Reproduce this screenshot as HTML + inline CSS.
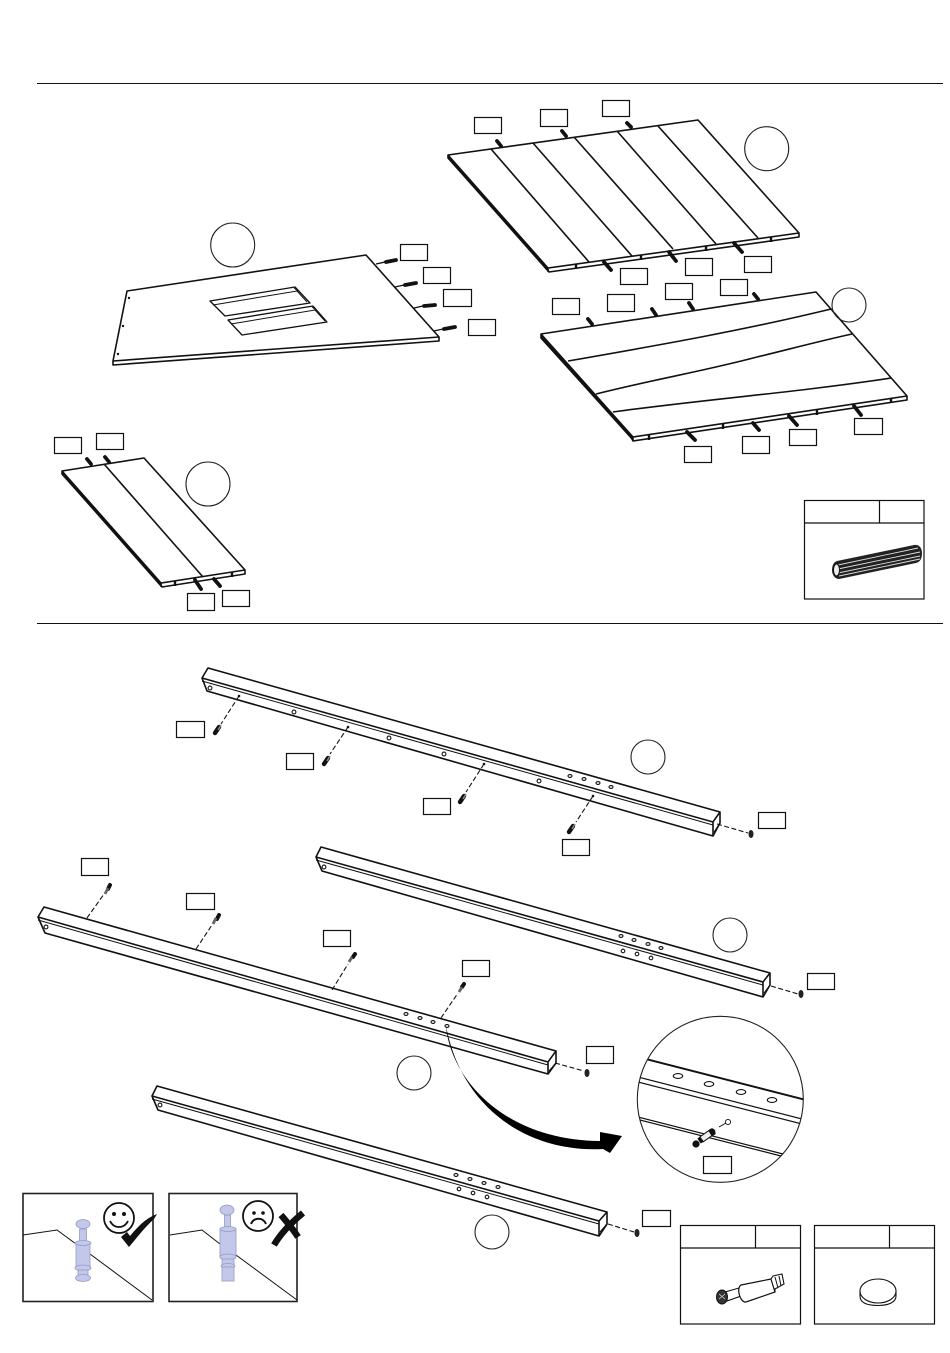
<!DOCTYPE html>
<html><head><meta charset="utf-8"><style>
html,body{margin:0;padding:0;background:#fff}
svg{display:block}
.l{fill:#fff;stroke:#111;stroke-width:1.2}
.c{fill:none;stroke:#222;stroke-width:1.1}
.e{fill:#fff;stroke:#111;stroke-width:1.6;stroke-linejoin:round}
.p{fill:none;stroke:#111;stroke-width:1.6}
.g{fill:none;stroke:#111;stroke-width:1}
.d{fill:none;stroke:#111;stroke-width:1.1;stroke-dasharray:5 2.5}
.dw{fill:none;stroke:#111;stroke-width:3.8;stroke-linecap:round}
.h{fill:#fff;stroke:#111;stroke-width:1.1}
.k{fill:#111}
.cam{fill:#c3c8ea;stroke:#9499c4;stroke-width:.8}
</style></head><body>
<svg width="950" height="1353" viewBox="0 0 950 1353" xmlns="http://www.w3.org/2000/svg">
<defs>
<clipPath id="zc"><circle cx="720.3" cy="1099.3" r="83"/></clipPath>
</defs>
<path d="M37 83.5H943M37 623.5H943" stroke="#111" stroke-width="1" fill="none"/>

<!-- Panel A -->
<path class="e" d="M448 155L698 120L799 233L799 237L549 272L547 268L448 158Z"/>
<path class="p" d="M448 155L548 268L799 233M548 268V272"/>
<path d="M448 156L548 268L547 271L448 159Z" fill="#111"/>
<path class="p" d="M491 149L589 262M533 143L632 256M574 137L673 249M617 131L716 244M658 126L758 238"/>
<path class="dw" d="M497 141L501 146M562 131L566 136M627 123L631 127"/>
<path class="dw" d="M604 262L611 270M669 252L676 261M734 243L742 252"/>
<path d="M576 264V269M641 255V260M706 246V251M771 237V242" stroke="#111" stroke-width="2.4"/>
<circle class="c" cx="766.7" cy="148.7" r="22"/>

<!-- Panel B -->
<path class="e" d="M541 334L816 292L907 396L907 400L633 441L631 437L541 338Z"/>
<path class="p" d="M541 334L633 437L907 396M633 437V441"/>
<path d="M541 335L633 437L632 440L541 339Z" fill="#111"/>
<path class="p" d="M568 361C660 345 745 330 831 309M596 394C660 378 700 372 757 357C790 349 820 341 852 334M613 412C700 400 800 392 891 378"/>
<path class="dw" d="M588 319L592 324M652 309L656 315M689 303L693 309M754 294L758 299"/>
<path class="dw" d="M687 432L695 440M753 423L759 430M789 416L797 425M854 406L861 415"/>
<path d="M649 435V440M723 424V429M817 410V415M891 398V403" stroke="#111" stroke-width="2.4"/>
<circle class="c" cx="849" cy="305" r="17" fill="#fff"/>

<!-- Panel C -->
<path class="e" d="M127 291L366 255L439 337L439 341L113 365L113 361Z"/>
<path class="p" d="M113 361L439 337"/>
<path class="e" style="stroke-width:1.3" d="M210 301L295 287L310 303L225 316Z"/>
<path class="g" d="M213 305L297 291L307 302M294 288L298 291"/>
<path class="e" style="stroke-width:1.3" d="M228 320L313 306L327 322L242 335Z"/>
<path class="g" d="M231 324L315 310L325 321M312 307L316 310"/>
<circle class="k" cx="129" cy="298" r="1.2"/><circle class="k" cx="123" cy="326" r="1.2"/><circle class="k" cx="118" cy="354" r="1.2"/>
<path d="M376 264L385 262M395 287L404 285M414 308L423 306M434 331L443 329" stroke="#111" stroke-width="1.4"/>
<path class="dw" d="M386 262L396 260M405 285L416 283M424 306L435 305M444 329L455 327"/>
<circle class="c" cx="232.7" cy="245" r="22"/>

<!-- Panel D -->
<path class="e" d="M62 471L144 458L245 570L245 574L162 587L160 583L62 474Z"/>
<path class="p" d="M62 471L161 583L245 570M161 583V587"/>
<path d="M62 472L161 583L160 586L62 475Z" fill="#111"/>
<path class="p" d="M104 464L203 577"/>
<path class="dw" d="M87 459L91 464M105 457L109 462"/>
<path class="dw" d="M195 580L201 589M214 579L220 586"/>
<path d="M175 581V586M232 572V577" stroke="#111" stroke-width="2.4"/>
<circle class="c" cx="208" cy="484" r="22"/>

<!-- Dowel box -->
<rect class="l" x="804.5" y="500.5" width="119.5" height="98.5"/>
<path d="M804.5 523H924M879.5 500.5V523" stroke="#111" stroke-width="1.2"/>
<path d="M837 561L914 545C919 544 922 548 922 553C922 559 920 562 916 563L839 579C835 579 832 575 832 570C832 565 834 562 837 561Z" fill="#222"/>
<path d="M838 565L918 548M838 569L920 552M838 573L920 556M839 576L920 559" stroke="#ddd" stroke-width=".9" fill="none"/>
<ellipse cx="836.5" cy="570" rx="3" ry="6" fill="#eee" stroke="#111" stroke-width="1"/>

<!-- Rail 1 -->
<path class="e" d="M208 668L720 812L720 823L713 836L207 691L202 678Z"/>
<path class="p" d="M202 678L713 822L720 812M713 822V836"/>
<path class="g" d="M202 681L713 825"/>
<path class="g" d="M714 832L720 823"/>
<g class="h"><circle cx="210" cy="688" r="1.9"/><circle cx="294" cy="712" r="1.9"/><circle cx="389" cy="738" r="1.9"/><circle cx="444" cy="754" r="1.9"/><circle cx="539" cy="781" r="1.9"/>
<ellipse cx="570" cy="776" rx="2" ry="1.4"/><ellipse cx="584" cy="779" rx="2" ry="1.4"/><ellipse cx="598" cy="783" rx="2" ry="1.4"/><ellipse cx="611" cy="787" rx="2" ry="1.4"/></g>
<g class="k"><circle cx="239" cy="696" r="1.3"/><circle cx="348" cy="727" r="1.3"/><circle cx="484" cy="764" r="1.3"/><circle cx="593" cy="796" r="1.3"/></g>
<path class="d" d="M239 696L221 724M348 727L330 754M484 764L466 792M593 796L576 822M717 824L748 833"/>
<path class="dw" style="stroke-width:4.4" d="M215 733L219 727M324 764L328 758M460 802L464 796M569 832L573 826"/>
<path d="M218 730L221 725M327 761L330 756M463 799L466 794M572 829L575 824" stroke="#888" stroke-width="1.5"/>
<ellipse cx="751" cy="834" rx="2.5" ry="4" fill="#222"/>
<circle class="c" cx="648" cy="757" r="17"/>

<!-- Rail 2 -->
<path class="e" d="M321 847L770 973L770 985L763 997L322 871L316 857Z"/>
<path class="p" d="M316 857L763 982L770 973M763 982V997"/>
<path class="g" d="M316 860L763 985M764 993L770 985"/>
<g class="h"><circle cx="324" cy="867" r="1.9"/><ellipse cx="621" cy="936" rx="2" ry="1.4"/><ellipse cx="634" cy="940" rx="2" ry="1.4"/><ellipse cx="648" cy="944" rx="2" ry="1.4"/><ellipse cx="661" cy="948" rx="2" ry="1.4"/>
<circle cx="623" cy="951" r="1.8"/><circle cx="637" cy="954" r="1.8"/><circle cx="651" cy="958" r="1.8"/></g>
<path class="d" d="M771 986L798 994"/>
<ellipse cx="801" cy="994" rx="2.5" ry="4" fill="#222"/>
<circle class="c" cx="730" cy="935" r="17"/>

<!-- Rail 3 -->
<path class="e" d="M44 907L556 1051L556 1063L548 1074L45 933L38 917Z"/>
<path class="p" d="M38 917L548 1062L556 1051M548 1062V1074"/>
<path class="g" d="M38 920L548 1065M549 1071L556 1063"/>
<g class="h"><circle cx="46" cy="927" r="1.9"/><ellipse cx="406" cy="1014" rx="2" ry="1.4"/><ellipse cx="420" cy="1018" rx="2" ry="1.4"/><ellipse cx="433" cy="1022" rx="2" ry="1.4"/><ellipse cx="447" cy="1026" rx="2" ry="1.4"/></g>
<path class="d" d="M87 918L104 894M196 949L212 925M332 990L348 964M441 1018L458 993M555 1063L584 1071"/>
<path class="dw" style="stroke-width:4" d="M108 889L110 885M217 919L219 915M353 957L355 954M462 987L464 984"/>
<path d="M105 894L108 888M213 924L216 918M349 962L352 957M459 992L462 987" stroke="#666" stroke-width="2.8"/>
<ellipse cx="587" cy="1073" rx="2.5" ry="4" fill="#222"/>
<circle class="c" cx="414" cy="1073" r="17"/>

<!-- Curved arrow -->
<path d="M446 1026C450 1075 500 1140 600 1141L600 1132L622 1136L610 1153L603 1149C530 1153 462 1110 446 1026Z" fill="#000"/>

<!-- Rail 4 -->
<path class="e" d="M157 1086L607 1212L607 1224L599 1236L158 1110L152 1096Z"/>
<path class="p" d="M152 1096L599 1221L607 1212M599 1221V1236"/>
<path class="g" d="M152 1099L599 1224M600 1232L607 1224"/>
<g class="h"><circle cx="160" cy="1105" r="1.9"/><ellipse cx="456" cy="1175" rx="2" ry="1.4"/><ellipse cx="470" cy="1179" rx="2" ry="1.4"/><ellipse cx="484" cy="1183" rx="2" ry="1.4"/><ellipse cx="498" cy="1187" rx="2" ry="1.4"/>
<circle cx="459" cy="1189" r="1.8"/><circle cx="473" cy="1193" r="1.8"/><circle cx="487" cy="1197" r="1.8"/></g>
<path class="d" d="M608 1224L634 1232"/>
<ellipse cx="637" cy="1233" rx="2.5" ry="4" fill="#222"/>
<circle class="c" cx="492" cy="1232" r="17"/>

<!-- Magnifier -->
<circle cx="720.3" cy="1099.3" r="83" fill="#fff" stroke="#222" stroke-width="1.1"/>
<g clip-path="url(#zc)">
<path d="M630 1055L810 1101" stroke="#111" stroke-width="1.9" fill="none"/>
<path d="M630 1075L810 1121M630 1080L810 1126M630 1115L783 1154M630 1117.5L783 1156.5" stroke="#111" stroke-width="1.2" fill="none"/>
</g>
<g class="h"><ellipse cx="678" cy="1076" rx="4.7" ry="2.4"/><ellipse cx="709" cy="1084" rx="4.7" ry="2.4"/><ellipse cx="741" cy="1092" rx="4.7" ry="2.4"/><ellipse cx="772" cy="1100" rx="4.7" ry="2.4"/></g>
<path d="M699 1141L702 1139" stroke="#111" stroke-width="6"/>
<path d="M702 1139L712 1132" stroke="#111" stroke-width="7" stroke-linecap="round"/>
<path d="M702 1139L712 1132" stroke="#eee" stroke-width="5"/>
<path d="M710 1133.5L714 1131" stroke="#111" stroke-width="7"/>
<circle cx="696" cy="1144" r="3.6" fill="#111"/>
<path d="M719 1127L726 1123" stroke="#111" stroke-width="1" fill="none"/>
<circle cx="728" cy="1122" r="2.6" fill="#fff" stroke="#111" stroke-width=".9"/>

<!-- Part boxes -->
<rect class="l" x="680.5" y="1225.5" width="120" height="98.5"/>
<path d="M680.5 1248H800.5M755.5 1225.5V1248" stroke="#111" stroke-width="1.2"/>
<path d="M725 1292L739 1288L741 1296L727 1301Z" fill="#fff" stroke="#111" stroke-width="1.1"/>
<path d="M741 1285L771 1279L775 1292L746 1302C740 1303 736 1288 741 1285Z" fill="#fff" stroke="#111" stroke-width="1.2"/>
<path d="M771 1279L773 1276L782 1274L784 1284L775 1289L775 1292Z" fill="#fff" stroke="#111" stroke-width="1.1"/>
<path d="M775 1277L778 1288M779 1276L781 1286" stroke="#111" stroke-width="1"/>
<ellipse cx="722" cy="1297" rx="5.5" ry="7" fill="#333" stroke="#111"/>
<path d="M719 1294L725 1299M719 1299L725 1294" stroke="#ddd" stroke-width=".7"/>

<rect class="l" x="814.5" y="1225.5" width="120" height="98.5"/>
<path d="M814.5 1248H934.5M889.5 1225.5V1248" stroke="#111" stroke-width="1.2"/>
<path d="M860 1290V1296C860 1303 868 1305.5 878 1305.5C889 1305.5 896 1302 896 1296V1290" fill="#fff" stroke="#111" stroke-width="1.1"/>
<ellipse cx="878" cy="1291" rx="18" ry="12" fill="#fff" stroke="#111" stroke-width="1.1"/>

<!-- Good box -->
<rect x="23" y="1193.5" width="130" height="108" fill="#fff" stroke="#222" stroke-width="1.6"/>
<path d="M23 1235L57 1230L76 1244M90 1254L152 1300" fill="none" stroke="#111" stroke-width="1"/>
<rect class="cam" x="79.5" y="1229" width="7" height="14"/>
<ellipse class="cam" cx="83" cy="1224" rx="7" ry="4.5"/>
<rect class="cam" x="76" y="1243" width="14" height="25"/>
<ellipse class="cam" cx="83" cy="1243" rx="8" ry="2.5"/>
<ellipse class="cam" cx="83" cy="1268" rx="8" ry="3"/>
<rect class="cam" x="78" y="1270" width="10" height="6"/>
<ellipse class="cam" cx="83" cy="1278" rx="7.5" ry="3.5"/>
<circle cx="119" cy="1218" r="15" fill="#fff" stroke="#111" stroke-width="1.8"/>
<circle cx="114" cy="1214" r="2" fill="#111"/><circle cx="124" cy="1214" r="2" fill="#111"/>
<path d="M110 1221C114 1229 124 1229 128 1221" fill="none" stroke="#111" stroke-width="1.8"/>
<path d="M121 1237L127 1232L130 1236C137 1228 144 1219 157 1214L154 1219C143 1229 136 1239 129 1247Z" fill="#111"/>

<!-- Bad box -->
<rect x="169" y="1193.5" width="128" height="108" fill="#fff" stroke="#222" stroke-width="1.6"/>
<path d="M170 1235L202 1230L220 1244M236 1255L297 1300" fill="none" stroke="#111" stroke-width="1"/>
<rect class="cam" x="224.5" y="1215" width="6" height="13"/>
<ellipse class="cam" cx="227" cy="1210" rx="7" ry="5"/>
<rect class="cam" x="220" y="1229" width="16" height="28"/>
<ellipse class="cam" cx="228" cy="1229" rx="8" ry="2.5"/>
<ellipse class="cam" cx="228" cy="1257" rx="8" ry="3"/>
<rect class="cam" x="222" y="1259" width="12" height="6"/>
<ellipse class="cam" cx="228" cy="1266" rx="7" ry="2.5"/>
<rect class="cam" x="222" y="1267" width="12" height="14"/>
<circle cx="258" cy="1216" r="15" fill="#fff" stroke="#111" stroke-width="1.8"/>
<circle cx="254" cy="1213" r="1.8" fill="#111"/><circle cx="263" cy="1213" r="1.8" fill="#111"/>
<path d="M251 1224C254 1217 263 1217 266 1224" fill="none" stroke="#111" stroke-width="1.9"/>
<path d="M303 1213C292 1222 281 1233 274 1245" fill="none" stroke="#111" stroke-width="6.5"/>
<path d="M281 1215C287 1222 293 1229 298 1237" fill="none" stroke="#111" stroke-width="6.5"/>

<!-- Label boxes -->
<g class="l">
<rect x="474.5" y="117.5" width="27" height="16"/><rect x="540.5" y="109.5" width="27" height="17"/><rect x="602.5" y="100.5" width="27" height="16"/>
<rect x="620.5" y="268.5" width="27" height="16"/><rect x="685.5" y="258.5" width="27" height="17"/><rect x="744.5" y="256.5" width="27" height="16"/>
<rect x="552.5" y="298.5" width="27" height="16"/><rect x="607.5" y="294.5" width="27" height="17"/><rect x="665.5" y="283.5" width="27" height="16"/><rect x="720.5" y="279.5" width="27" height="16"/>
<rect x="684.5" y="446.5" width="27" height="16"/><rect x="742.5" y="436.5" width="27" height="17"/><rect x="789.5" y="429.5" width="27" height="16"/><rect x="854.5" y="418.5" width="28" height="16"/>
<rect x="400.5" y="244.5" width="27" height="16"/><rect x="423.5" y="267.5" width="27" height="16"/><rect x="443.5" y="289.5" width="28" height="17"/><rect x="468.5" y="319.5" width="27" height="16"/>
<rect x="54.5" y="437.5" width="27" height="16"/><rect x="96.5" y="433.5" width="27" height="16"/><rect x="187.5" y="593.5" width="27" height="17"/><rect x="222.5" y="590.5" width="27" height="16"/>
<rect x="176.5" y="721.5" width="28" height="16"/><rect x="286.5" y="753.5" width="27" height="16"/><rect x="423.5" y="798.5" width="27" height="16"/><rect x="562.5" y="839.5" width="27" height="16"/><rect x="758.5" y="812.5" width="27" height="16"/>
<rect x="807.5" y="973.5" width="27" height="16"/>
<rect x="81.5" y="858.5" width="27" height="17"/><rect x="186.5" y="893.5" width="28" height="16"/><rect x="323.5" y="930.5" width="27" height="16"/><rect x="462.5" y="960.5" width="27" height="16"/><rect x="586.5" y="1046.5" width="27" height="17"/>
<rect x="642.5" y="1210.5" width="28" height="16"/>
<rect x="703.5" y="1156.5" width="28" height="17"/>
</g>
</svg>
</body></html>
